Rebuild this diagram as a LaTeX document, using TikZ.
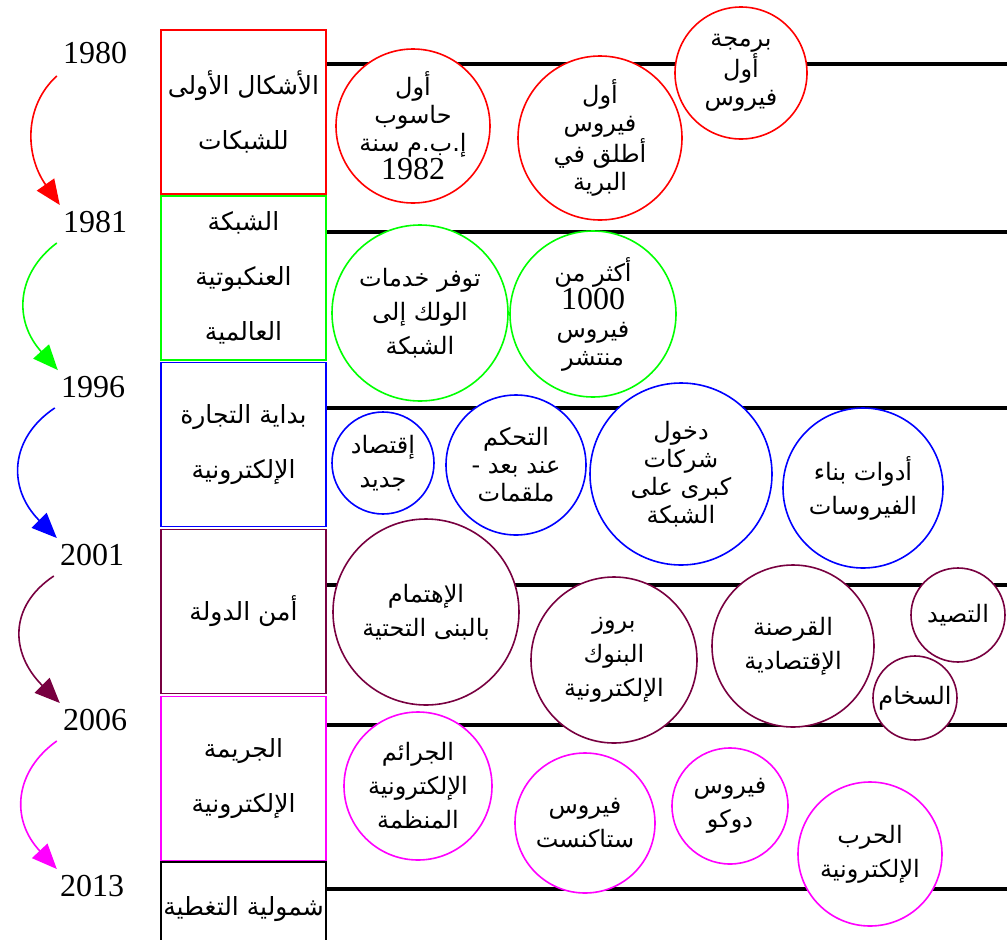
\documentclass[tikz,border=0pt]{standalone}
\usepackage{fontspec}
\setmainfont{Liberation Serif}
\newfontfamily\arabicfont[Script=Arabic]{DejaVu Sans}
\TeXXeTstate=1
\usetikzlibrary{arrows.meta,positioning,shapes.geometric}
\definecolor{maroon}{RGB}{120,0,64}
\definecolor{pinkline}{RGB}{255,0,255}
\definecolor{redline}{RGB}{255,0,0}
\definecolor{greenline}{RGB}{0,255,0}
\definecolor{blueline}{RGB}{0,0,255}

\newcommand{\artxt}[1]{{\arabicfont\beginR #1\endR}}

\tikzset{
  period/.style={draw=#1, line width=1.8pt, minimum width=165pt, minimum height=164pt,
    inner sep=0pt, align=center, font=\fontsize{25}{55}\selectfont},
  event/.style={draw=#1, circle, line width=1.6pt, fill=white, inner sep=0pt,
    align=center, font=\fontsize{24}{34}\selectfont},
  tight/.style={font=\fontsize{24}{28}\selectfont},
  year/.style={inner sep=0pt, font=\fontsize{32}{36}\selectfont},
  flow/.style={line width=1.6pt, draw=#1, -{Triangle[length=25pt,width=21pt]}},
  track/.style={line width=3.5pt, black}
}

\begin{document}
\begin{tikzpicture}[x=1pt, y=-1pt]
\useasboundingbox (0,0) rectangle (1007,940);

% time tracks
\foreach \y in {64,232,408,585,725,889}
  \draw[track] (326,\y) -- (1007,\y);

% periods
\node[period=redline] (p1) at (243.5,112) {\artxt{الأشكال الأولى}\\\artxt{للشبكات}};
\node[period=greenline] (p2) at (243.5,278) {\artxt{الشبكة}\\\artxt{العنكبوتية}\\\artxt{العالمية}};
\node[period=blueline] (p3) at (243.5,444.5) {\artxt{بداية التجارة}\\\artxt{الإلكترونية}};
\node[period=maroon] (p4) at (243.5,611.5) {\artxt{أمن الدولة}};
\node[period=pinkline] (p5) at (243.5,778.5) {\artxt{الجريمة}\\\artxt{الإلكترونية}};
\node[period=black, minimum height=94pt] (p6) at (243.5,909) {\artxt{شمولية التغطية}};

% years
\node[year] (y1980) at (95,53) {1980};
\node[year] (y1981) at (95,222) {1981};
\node[year] (y1996) at (93,387) {1996};
\node[year] (y2001) at (92,555) {2001};
\node[year] (y2006) at (95,720) {2006};
\node[year] (y2013) at (92,886) {2013};

\draw[flow=redline] ([xshift=-6pt,yshift=-12pt]y1980.south west) .. controls +(-33,30) and +(-35,-50) .. ([xshift=-3pt,yshift=6pt]y1981.north west);
\draw[flow=greenline] ([xshift=-6pt,yshift=-10pt]y1981.south west) .. controls +(-40,30) and +(-45,-50) .. ([xshift=-3pt,yshift=6pt]y1996.north west);
\draw[flow=blueline] ([xshift=-6pt,yshift=-10pt]y1996.south west) .. controls +(-45,30) and +(-50,-50) .. ([xshift=-3pt,yshift=6pt]y2001.north west);
\draw[flow=maroon] ([xshift=-6pt,yshift=-10pt]y2001.south west) .. controls +(-45,30) and +(-50,-50) .. ([xshift=-3pt,yshift=6pt]y2006.north west);
\draw[flow=pinkline] ([xshift=-6pt,yshift=-10pt]y2006.south west) .. controls +(-42,30) and +(-47,-50) .. ([xshift=-3pt,yshift=6pt]y2013.north west);

% events, 1980
\node[event=redline, tight, minimum size=154pt] (ibm) at (413,126)
  {\artxt{أول}\\\artxt{حاسوب}\\\artxt{إ.ب.م سنة}\\\fontsize{32}{28}\selectfont 1982};
\node[event=redline, tight, minimum size=164pt] (wild) at (600,138)
  {\artxt{أول}\\\artxt{فيروس}\\\artxt{أطلق في}\\\artxt{البرية}};
\node[event=redline, tight, minimum size=132pt] (first) at (741,73)
  {\artxt{برمجة}\\\artxt{أول}\\\artxt{فيروس}};

% events, 1981
\node[event=greenline, minimum size=176pt] (wolk) at (420,313)
  {\artxt{توفر خدمات}\\\artxt{الولك إلى}\\\artxt{الشبكة}};
\node[event=greenline, tight, minimum size=166pt] (spread) at (593,314)
  {\artxt{أكثر من}\\\fontsize{32}{28}\selectfont 1000\\\artxt{فيروس}\\\artxt{منتشر}};

% events, 1996
\node[event=blueline, minimum size=102pt] (economy) at (383,463)
  {\artxt{إقتصاد}\\\artxt{جديد}};
\node[event=blueline, tight, minimum size=140pt] (remote) at (516,465)
  {\artxt{التحكم}\\\artxt{عند بعد -}\\\artxt{ملقمات}};
\node[event=blueline, tight, minimum size=182pt] (firms) at (681,474)
  {\artxt{دخول}\\\artxt{شركات}\\\artxt{كبرى على}\\\artxt{الشبكة}};
\node[event=blueline, minimum size=160pt] (tools) at (863,488)
  {\artxt{أدوات بناء}\\\artxt{الفيروسات}};

% events, 2001
\node[event=maroon, minimum size=186pt] (infra) at (426,612)
  {\artxt{الإهتمام}\\\artxt{بالبنى التحتية}};
\node[event=maroon, minimum size=166pt] (banks) at (614,660)
  {\artxt{بروز}\\\artxt{البنوك}\\\artxt{الإلكترونية}};
\node[event=maroon, minimum size=162pt] (piracy) at (793,646)
  {\artxt{القرصنة}\\\artxt{الإقتصادية}};
\node[event=maroon, minimum size=94pt] (phish) at (958,615)
  {\artxt{التصيد}};
\node[event=maroon, minimum size=84pt] (spam) at (915,698)
  {\artxt{السخام}};

% events, 2006
\node[event=pinkline, minimum size=148pt] (gangs) at (418,786)
  {\artxt{الجرائم}\\\artxt{الإلكترونية}\\\artxt{المنظمة}};
\node[event=pinkline, minimum size=140pt] (stuxnet) at (585,823)
  {\artxt{فيروس}\\\artxt{ستاكنست}};
\node[event=pinkline, minimum size=116pt] (duqu) at (730,806)
  {\artxt{فيروس}\\\artxt{دوكو}};
\node[event=pinkline, minimum size=144pt] (war) at (870,854)
  {\artxt{الحرب}\\\artxt{الإلكترونية}};

\end{tikzpicture}
\end{document}
